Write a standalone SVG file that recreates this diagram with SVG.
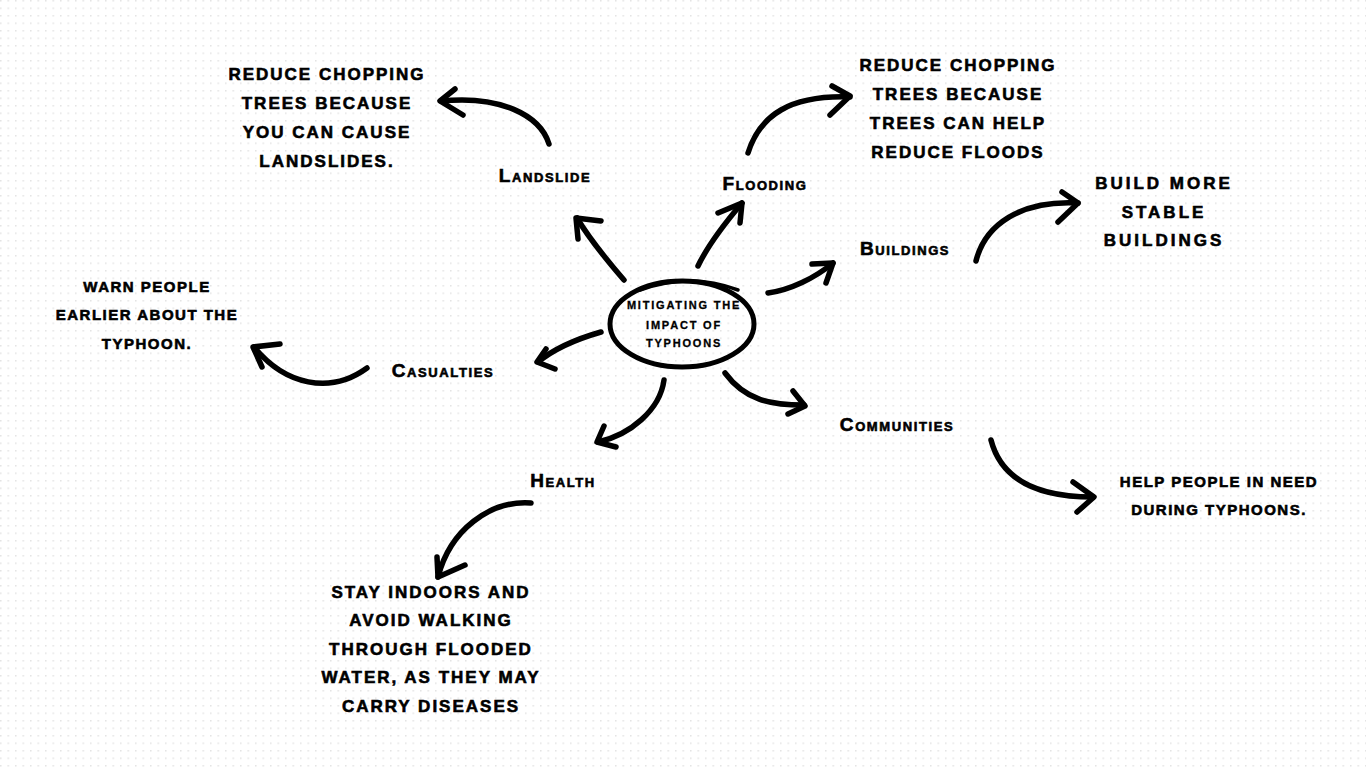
<svg xmlns="http://www.w3.org/2000/svg" width="1366" height="768" viewBox="0 0 1366 768">
<defs>
<pattern id="dots" x="0" y="0" width="7.5" height="7.5" patternUnits="userSpaceOnUse">
<rect x="0" y="0" width="1.5" height="1.5" fill="#e3e3e3"/>
</pattern>
<style>
.ln{fill:none;stroke:#000;stroke-width:5.5;stroke-linecap:round;stroke-linejoin:round}
.hd{fill:none;stroke:#000;stroke-width:5.5;stroke-linecap:round;stroke-linejoin:round}
text{font-family:"Liberation Sans",Arial,sans-serif;font-weight:700;fill:#000;stroke:#000;stroke-width:0.6;text-anchor:middle}
.big{font-size:17px;letter-spacing:2px}
.med{font-size:15px;letter-spacing:1.5px}
.lbl{font-size:19px;letter-spacing:1.6px;font-variant:small-caps}
.ctr{font-size:11px;letter-spacing:1.8px;stroke-width:0.3}
</style>
</defs>
<rect width="1366" height="768" fill="#ffffff"/>
<rect width="1366" height="768" fill="url(#dots)"/>

<g id="connectors">
<path class="ln" d="M624,280 C605,258 590,240 577,218"/>
<path class="hd" d="M578,239 L576,218 L601,221"/>
<path class="ln" d="M698,266 C708,245 725,223 742,203"/>
<path class="hd" d="M718,213 L742,203 L740,223"/>
<path class="ln" d="M768,293 C790,290 815,278 833,263"/>
<path class="hd" d="M812,264 L833,263 L826,283"/>
<path class="ln" d="M601,332 C580,338 555,348 538,362"/>
<path class="hd" d="M546,349 L537,362 L555,369"/>
<path class="ln" d="M664,380 C660,410 630,435 598,442"/>
<path class="hd" d="M604,426 L597,442 L616,447"/>
<path class="ln" d="M725,373 C745,400 770,405 804,405"/>
<path class="hd" d="M793,391 L805,406 L788,414"/>
<path class="ln" d="M549,144 C540,115 500,95 441,101"/>
<path class="hd" d="M455,89 L440,101 L463,115"/>
<path class="ln" d="M748,153 C760,115 790,95 850,97"/>
<path class="hd" d="M832,86 L850,96 L830,115"/>
<path class="ln" d="M976,261 C985,225 1020,200 1078,203"/>
<path class="hd" d="M1062,192 L1078,203 L1058,222"/>
<path class="ln" d="M367,368 C330,395 285,385 254,347"/>
<path class="hd" d="M280,344 L253,347 L262,367"/>
<path class="ln" d="M991,440 C1000,475 1030,497 1093,497"/>
<path class="hd" d="M1073,482 L1094,497 L1077,512"/>
<path class="ln" d="M531,503 C490,500 450,530 438,577"/>
<path class="hd" d="M437,557 L438,577 L465,565"/>
</g>

<g id="center">
<ellipse cx="682" cy="324" rx="72" ry="43" fill="none" stroke="#000" stroke-width="5"/>
<path d="M640,290 Q690,272 738,290" fill="none" stroke="#000" stroke-width="3.5" stroke-linecap="round"/>
<text class="ctr" x="684" y="309">MITIGATING THE</text>
<text class="ctr" x="684" y="329">IMPACT OF</text>
<text class="ctr" x="684" y="347">TYPHOONS</text>
</g>

<g id="landslide"><text class="lbl" x="545" y="182">Landslide</text></g>
<g id="flooding"><text class="lbl" x="765" y="190">Flooding</text></g>
<g id="buildings"><text class="lbl" x="905" y="255">Buildings</text></g>
<g id="casualties"><text class="lbl" x="443" y="377">Casualties</text></g>
<g id="communities"><text class="lbl" x="897" y="431">Communities</text></g>
<g id="health"><text class="lbl" x="563" y="487">Health</text></g>

<g id="landslide-note">
<text class="big" x="327" y="80">REDUCE CHOPPING</text>
<text class="big" x="327" y="109">TREES BECAUSE</text>
<text class="big" x="327" y="138">YOU CAN CAUSE</text>
<text class="big" x="327" y="167">LANDSLIDES.</text>
</g>
<g id="flooding-note">
<text class="big" x="958" y="71">REDUCE CHOPPING</text>
<text class="big" x="958" y="100">TREES BECAUSE</text>
<text class="big" x="958" y="129">TREES CAN HELP</text>
<text class="big" x="958" y="158">REDUCE FLOODS</text>
</g>
<g id="buildings-note">
<text class="big" x="1164" y="189" style="letter-spacing:3px">BUILD MORE</text>
<text class="big" x="1164" y="218" style="letter-spacing:3px">STABLE</text>
<text class="big" x="1164" y="246" style="letter-spacing:3px">BUILDINGS</text>
</g>
<g id="casualties-note">
<text class="med" x="147" y="292">WARN PEOPLE</text>
<text class="med" x="147" y="320">EARLIER ABOUT THE</text>
<text class="med" x="147" y="349">TYPHOON.</text>
</g>
<g id="communities-note">
<text class="med" x="1219" y="487">HELP PEOPLE IN NEED</text>
<text class="med" x="1219" y="515">DURING TYPHOONS.</text>
</g>
<g id="health-note">
<text class="big" x="431" y="598">STAY INDOORS AND</text>
<text class="big" x="431" y="626">AVOID WALKING</text>
<text class="big" x="431" y="655">THROUGH FLOODED</text>
<text class="big" x="431" y="683">WATER, AS THEY MAY</text>
<text class="big" x="431" y="712">CARRY DISEASES</text>
</g>
</svg>
